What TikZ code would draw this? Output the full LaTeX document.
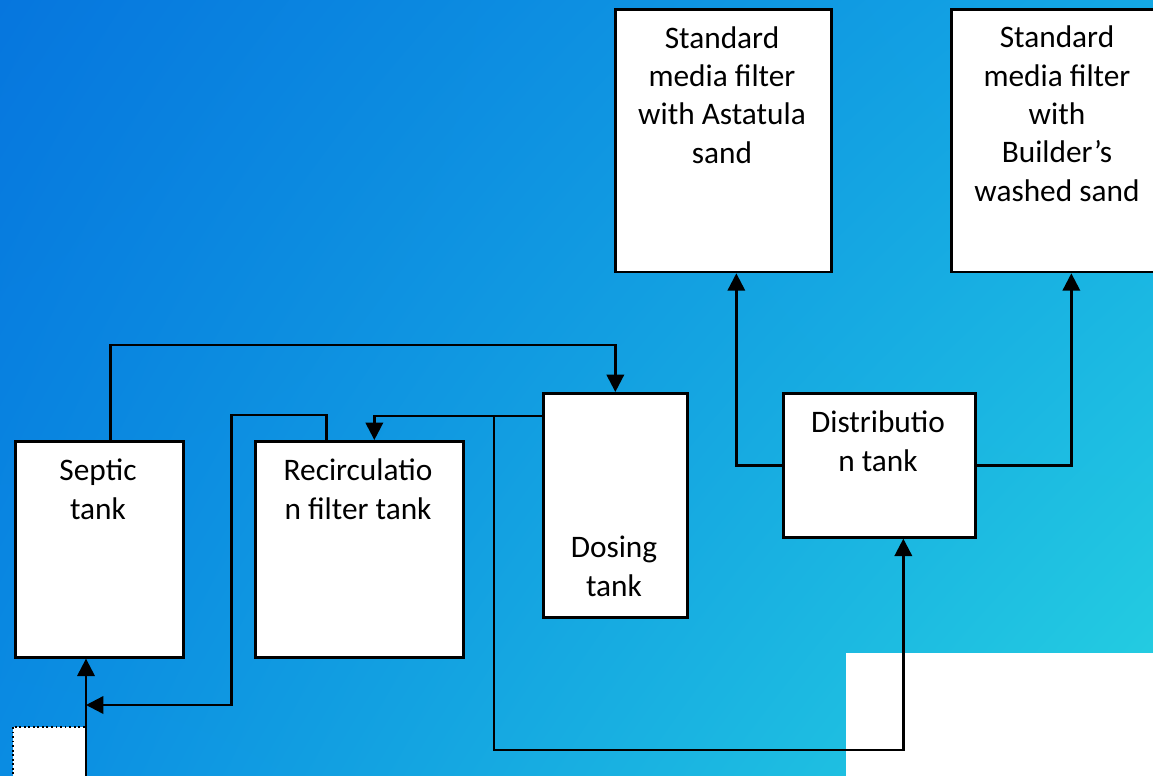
\documentclass[tikz,border=0pt]{standalone}
\usepackage{fontspec}
\setmainfont{Carlito}
\usetikzlibrary{arrows.meta,positioning,calc,shadings}

\definecolor{bgTL}{RGB}{6,118,222}
\definecolor{bgTR}{RGB}{20,168,228}
\definecolor{bgBL}{RGB}{10,140,226}
\definecolor{bgBR}{RGB}{38,210,224}

\begin{document}
\begin{tikzpicture}[x=0.75pt, y=-0.75pt]

\tikzstyle{tank} = [rectangle, draw, line width=2pt, fill=white, anchor=north west, inner sep=0pt]
\tikzstyle{txt} = [align=center, inner sep=0pt, anchor=base, font=\fontsize{23.5pt}{28.7pt}\selectfont]
\tikzstyle{flow} = [line width=1.8pt, -{Triangle[length=13pt,width=13pt]}]

\useasboundingbox (0,0) rectangle (1153,775);
\clip (0,0) rectangle (1153,775);

% background
\shade[upper left=bgTL, upper right=bgTR, lower left=bgBL, lower right=bgBR] (0,0) rectangle (1153,775);
\fill[white] (846,653) rectangle (1160,780);
\draw[dotted, line width=1.4pt, fill=white] (13,727) rectangle (86,785);

% tanks
\node [tank, minimum width=126pt, minimum height=162pt] (septic) at (14,440) {};
\node [tank, minimum width=156pt, minimum height=162pt] (recirc) at (254,440) {};
\node [tank, minimum width=108pt, minimum height=168pt] (dosing) at (542,392) {};
\node [tank, minimum width=144pt, minimum height=108pt] (dist) at (782,392) {};
\node [tank, minimum width=162pt, minimum height=197pt] (astatula) at (614,8) {};
\node [tank, minimum width=162pt, minimum height=197pt] (builder) at (950,8) {};

% texts (anchored at the baseline of the last line)
\node [txt] (septic_txt) at (98,519) {Septic\\tank};
\node [txt] (recirc_txt) at (358,519) {Recirculatio\\n filter tank};
\node [txt] (dosing_txt) at (614,596) {Dosing\\tank};
\node [txt] (dist_txt) at (878,471) {Distributio\\n tank};
\node [txt] (astatula_txt) at (722,163) {Standard\\media filter\\with Astatula\\sand};
\node [txt] (builder_txt) at (1057,201) {Standard\\media filter\\with\\Builder’s\\washed sand};

\coordinate (inlet) at (86,776);

% connectors
\draw[flow] (inlet) -- (inlet |- septic.south);
\draw[flow] ([xshift=8.25pt]septic.north) -- ++(0,-95) -| (dosing.north);
\draw[flow] ([xshift=-24.75pt]recirc.north) -- ++(0,-25) -- ++(-95,0) |- ($(inlet)+(0,-71)$);
\draw[flow] ([yshift=-18pt]dosing.north west) -| ([xshift=11.25pt]recirc.north);
\draw[flow] ([xshift=-36pt,yshift=-18pt]dosing.north west) -- ++(0,334) -| ([xshift=18pt]dist.south);
\draw[flow] (dist.west) -| ([xshift=9.75pt]astatula.south);
\draw[flow] (dist.east) -| ([xshift=9pt]builder.south);

\end{tikzpicture}
\end{document}
